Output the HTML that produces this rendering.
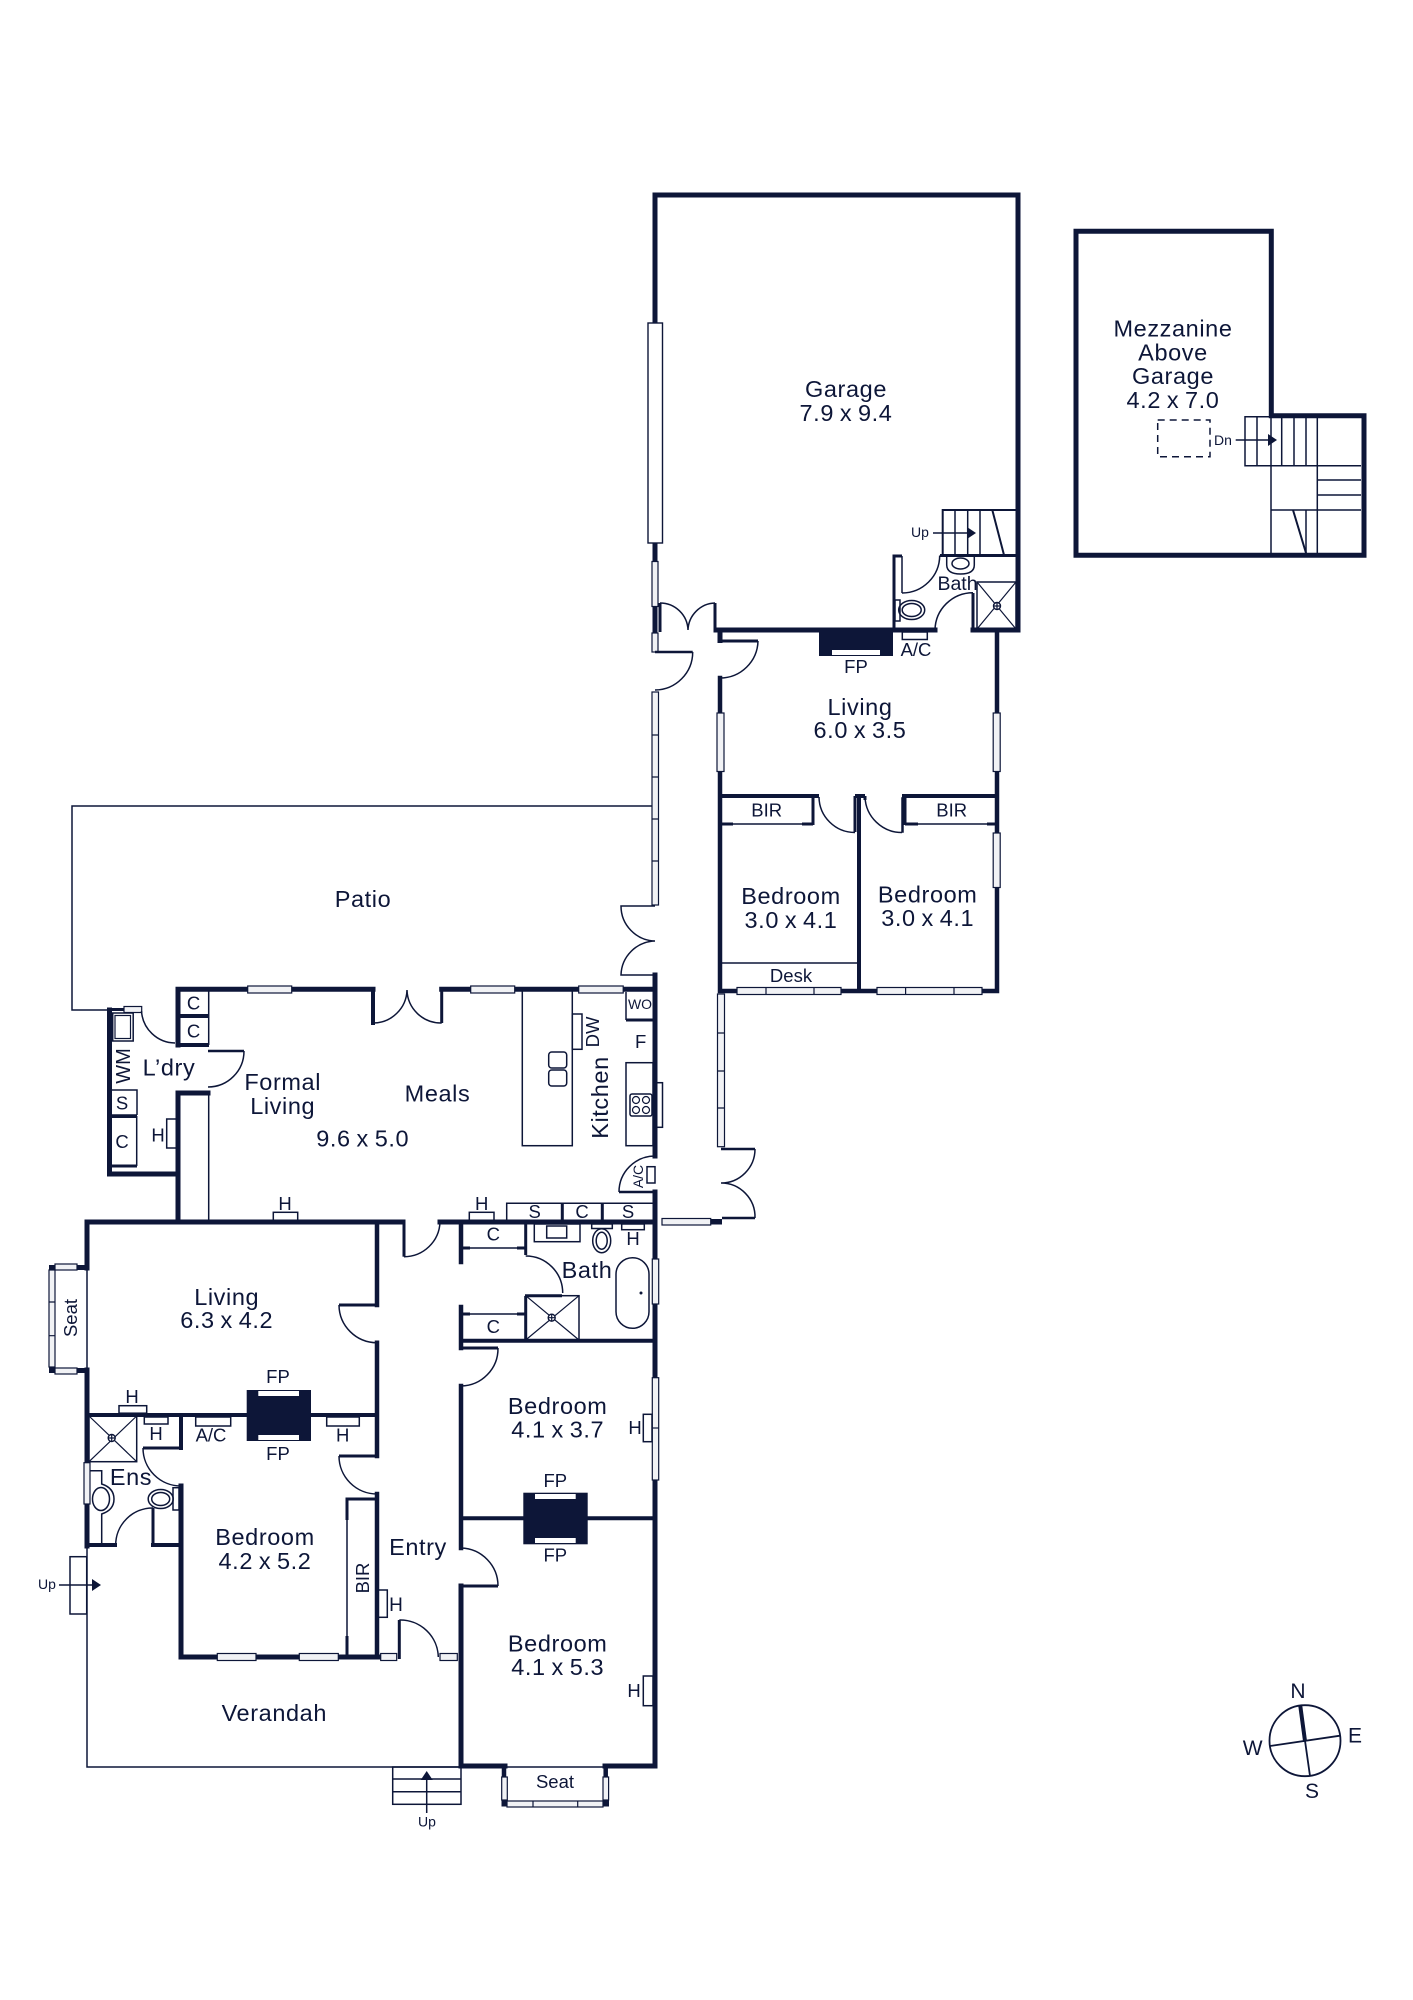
<!DOCTYPE html>
<html lang="en"><head><meta charset="utf-8"><title>Floor plan</title>
<style>
html,body{margin:0;padding:0;background:#fff}
svg{display:block}
text{font-family:"Liberation Sans",sans-serif;fill:#0d1638;text-anchor:middle}
.l{font-size:23.5px;letter-spacing:.6px;word-spacing:-1.3px}
.m{font-size:18.5px}
.s{font-size:14px}
.c{font-size:21px}
.w{fill:none;stroke:#0d1638;stroke-width:5;stroke-linecap:square}
.t{fill:none;stroke:#0d1638;stroke-width:3}
.n{fill:none;stroke:#0d1638;stroke-width:1.5}
.h{fill:none;stroke:#0d1638;stroke-width:1.2}
.b{fill:#fff;stroke:#0d1638;stroke-width:1.4}
.g{fill:#f1f2f5;stroke:#0d1638;stroke-width:1.2}
.k{fill:#0d1638}
.wh{fill:#fff}
</style></head><body>
<svg width="1413" height="2000" viewBox="0 0 1413 2000" xmlns="http://www.w3.org/2000/svg">
<rect width="1413" height="2000" fill="#fff"/>

<!-- thin outlines: patio, verandah -->
<path class="n" d="M652 806H72V1010H108"/>
<path class="n" d="M87 1268V1370M87 1546V1767H461"/>
<path class="n" d="M208.700 989V1045M208.700 1092V1222"/>
<path class="n" d="M720 963H859"/>

<!-- GARAGE -->
<path class="w" d="M655 323V195H1018V630H973"/>
<path class="w" d="M655 543V632"/>
<path class="t" d="M715 630V603"/>
<path class="w" d="M716 630H893M893 630H935"/>
<path class="t" d="M973 630V593M894 630V556H902"/>
<path class="n" d="M902 556V593"/>
<path class="t" d="M940 555.500H1018"/>
<path class="t" d="M660 603V632"/>
<rect class="b" x="648" y="323" width="14.500" height="220"/>
<rect class="g" x="652" y="561.500" width="6" height="45"/>
<rect class="g" x="652" y="633" width="6" height="19"/>
<path class="n" d="M660 603A28 28 0 0 1 688 630M715 603A28 28 0 0 0 688 630"/>
<rect class="k" x="819" y="628" width="74" height="28"/>
<rect class="wh" x="832" y="650" width="48" height="5"/>
<rect class="n" x="902.300" y="632" width="25" height="7.500"/>
<!-- garage stairs -->
<path class="t" style="stroke-width:2" d="M942.700 555V510H1018"/>
<path class="n" d="M955 510V555M967.700 510V555M980 510V555"/>
<path class="t" style="stroke-width:2" d="M992.300 510L1004 555"/>
<path class="n" d="M933 533H968"/><path class="k" d="M967 527L976 533L967 539Z"/>
<text class="s" x="920" y="537">Up</text>
<!-- garage bath -->
<path class="n" d="M902 593A37.700 37.700 0 0 0 939.700 555.500"/>
<path class="n" d="M935 630A38 38 0 0 1 973 592.700"/>
<rect class="n" x="895" y="600" width="5" height="21"/>
<ellipse class="n" cx="911.700" cy="610" rx="13" ry="9.500"/><ellipse class="n" cx="911.700" cy="610" rx="9.500" ry="6.500"/>
<path class="n" d="M946.700 556V565Q947 574 960.500 574Q974.300 574 974.300 565V556"/>
<ellipse class="n" cx="960.500" cy="563.500" rx="8.500" ry="5.500"/>
<rect class="n" x="977" y="582" width="39" height="47"/>
<path class="h" d="M977 582L1016 629M1016 582L977 629"/>
<circle class="b" cx="997" cy="606" r="3.500"/><path class="h" d="M993.500 606H1000.500M997 602.500V609.500"/>

<!-- REAR LIVING / BEDROOMS -->
<path class="w" d="M720 632V640.500"/>
<path class="t" d="M720 641H758"/>
<path class="n" d="M758 641A38 38 0 0 1 720 678"/>
<path class="w" d="M720 678V991H997V632" style="stroke-width:4.500"/>
<path class="w" style="stroke-width:4" d="M859 796V991"/>
<path class="t" style="stroke-width:4" d="M720 796H819M855 796H865M902 796H997"/>
<path class="t" d="M813 796V825M905 796V825M855 796V832M865 796V800"/>
<path class="n" d="M720 824H813M905 824H997"/>
<path class="t" style="stroke-width:3" d="M722 824H733M802 824H813M905 824H918M987 824H995"/>
<path class="n" d="M819 797A36 36 0 0 0 855 832.500M865 797A37 37 0 0 0 902 832.500"/>
<rect class="n" x="902" y="798" width="1" height="34"/>
<rect class="g" x="717" y="713" width="7" height="58.500"/>
<rect class="g" x="993.200" y="713" width="7" height="58.500"/>
<rect class="g" x="993.200" y="833" width="7" height="54.500"/>
<rect class="g" x="737" y="987.500" width="104" height="7"/><path class="h" d="M766 987V995M814 987V995"/>
<rect class="g" x="877" y="987.500" width="105" height="7"/><path class="h" d="M905.600 987V995M954 987V995"/>

<!-- side door -->
<path class="t" style="stroke-width:2.500" d="M655 652H692.700"/>
<path class="n" d="M692.700 652A38 38 0 0 1 655 690"/>
<rect class="g" x="652" y="692" width="6.500" height="213"/>
<path class="h" d="M652 735H658.500M652 777H658.500M652 819H658.500M652 861H658.500"/>
<path class="n" d="M655 906H621A35 35 0 0 0 655 941A35 35 0 0 0 621 975H655"/>

<!-- corridor right -->
<rect class="g" x="717.500" y="994" width="7" height="152.700"/>
<path class="h" d="M717.500 1033H724.500M717.500 1071H724.500M717.500 1108H724.500"/>
<path class="t" style="stroke-width:2.500" d="M721 1149H755"/>
<path class="n" d="M755 1149A34 34 0 0 1 721 1183A34 34 0 0 1 755 1218"/>
<path class="t" style="stroke-width:2.500" d="M722 1218H755"/>
<rect class="k" x="710" y="1219" width="12" height="5.500"/>
<rect class="g" x="662" y="1218.500" width="48.700" height="6.500"/>

<!-- MAIN outer right wall -->
<path class="w" d="M655 975V1156"/>
<path class="t" style="stroke-width:2.500" d="M619 1192H655"/>
<path class="n" d="M655 1156A36 36 0 0 0 619 1192"/>
<path class="w" d="M655 1192V1766H605"/>
<path class="w" d="M461 1766H505"/>

<!-- top wall of meals -->
<path class="w" d="M178 1045V989.300H373"/>
<path class="w" style="stroke-width:4" d="M373 989.300V1023"/>
<path class="w" d="M441.700 989.300H655"/>
<path class="t" d="M441.700 989V1023"/>
<path class="n" d="M373 1023A34 34 0 0 0 407 990A34 34 0 0 0 441.700 1023"/>
<rect class="g" x="247.700" y="986" width="44" height="7"/>
<rect class="g" x="470.700" y="986" width="44" height="7"/>
<rect class="g" x="578.700" y="986" width="44.500" height="7"/>

<!-- L'DRY -->
<path class="w" d="M109.500 1010V1174H178V1093H208"/>
<path class="w" d="M178 1174V1222"/>
<path class="t" d="M109 1009.500H124"/>
<rect class="g" x="124" y="1006.500" width="17.700" height="6"/>
<path class="n" d="M141.500 1011A34 34 0 0 0 175 1043"/>
<path class="w" style="stroke-width:4" d="M178 1016H207M178 1045H207"/>
<path class="t" style="stroke-width:2.500" d="M208 1051H244"/>
<path class="n" d="M244 1051A36 36 0 0 1 208 1087"/>
<rect class="n" x="112.700" y="1013" width="20.500" height="28"/>
<rect class="h" x="115" y="1015.500" width="15.500" height="23"/>
<path class="n" d="M112 1090H137V1115M112 1115H137"/>
<path class="t" d="M110 1116.500H137M110 1166H137"/>
<path class="n" d="M136.700 1116V1166"/>
<rect class="n" x="166.700" y="1119" width="10.500" height="29"/>

<!-- main horizontal wall -->
<path class="w" d="M87 1222H403M440 1222H655"/>
<path class="t" d="M404 1222V1256.700"/>
<path class="n" d="M404 1256.700A36 36 0 0 0 440 1222"/>

<!-- kitchen -->
<rect class="n" x="522.300" y="990" width="50" height="155.700"/>
<rect class="n" x="572.300" y="1014" width="9.700" height="35.300"/>
<rect class="n" x="548.700" y="1052" width="18" height="16" rx="3"/>
<rect class="n" x="548.700" y="1070" width="18" height="16" rx="3"/>
<path class="n" d="M626 992V1020"/><path class="t" d="M626 1020H653"/>
<rect class="n" x="626" y="1062.700" width="27" height="83"/>
<rect class="n" x="655.500" y="1082.700" width="7" height="44.600"/>
<rect class="n" x="630" y="1094" width="22" height="22" rx="2"/>
<circle class="h" cx="636" cy="1100" r="3.500"/><circle class="h" cx="646" cy="1100" r="3.500"/><circle class="h" cx="636" cy="1110" r="3.500"/><circle class="h" cx="646" cy="1110" r="3.500"/>
<rect class="n" x="647" y="1166.700" width="8" height="16.300"/>
<path class="n" d="M506.700 1222V1203.300H653"/>
<path class="t" d="M562.300 1203V1221M602.300 1203V1221"/>
<rect class="n" x="469.300" y="1212.300" width="24.700" height="8"/>
<rect class="n" x="273.300" y="1212.300" width="24.400" height="8"/>

<!-- FRONT LIVING -->
<path class="w" d="M87 1222V1268"/>
<path class="w" d="M87 1370V1546"/>
<rect class="k" x="76" y="1265" width="11" height="5"/>
<rect class="k" x="76" y="1368" width="11" height="5"/>
<rect class="k" x="49" y="1265" width="6" height="6"/>
<rect class="k" x="49" y="1367" width="6" height="6"/>
<rect class="g" x="55" y="1264" width="22" height="6"/>
<rect class="g" x="55" y="1368" width="22" height="6"/>
<rect class="g" x="49" y="1270" width="6" height="97"/>
<path class="h" d="M49 1302H55M49 1335.700H55"/>
<path class="w" style="stroke-width:4.500" d="M377 1222V1305"/>
<path class="t" d="M339 1305H377"/>
<path class="n" d="M339 1305A38 38 0 0 0 377 1342.700"/>
<path class="w" style="stroke-width:4.500" d="M377 1342.700V1456"/>
<path class="t" d="M339 1456H377"/>
<path class="n" d="M339 1456A38 38 0 0 0 377 1494"/>
<path class="w" style="stroke-width:4.500" d="M377 1494V1657"/>
<path class="w" style="stroke-width:4" d="M87 1415H377"/>
<rect class="k" x="246.700" y="1390" width="64.300" height="51"/>
<rect class="wh" x="258.300" y="1391" width="40.700" height="5"/>
<rect class="wh" x="258.300" y="1435" width="40.700" height="5"/>
<rect class="n" x="119" y="1405.700" width="27.700" height="7.500"/>
<rect class="n" x="144.300" y="1417" width="23.700" height="7"/>
<rect class="n" x="195.700" y="1417" width="35" height="9"/>
<rect class="n" x="326.700" y="1417" width="32.600" height="9"/>
<path class="w" style="stroke-width:4" d="M181 1415V1448"/>
<path class="t" d="M143 1448H181"/>
<path class="n" d="M143 1448A38 38 0 0 0 181 1486"/>
<path class="w" d="M181 1486V1657H299"/>
<path class="w" d="M299 1657H398"/>
<path class="w" style="stroke-width:4" d="M87 1545H115M153 1545H181"/>
<path class="t" d="M153 1508V1545"/>
<path class="n" d="M115.700 1545A37 37 0 0 1 153 1508"/>
<rect class="n" x="173" y="1487.700" width="6" height="22.300"/>
<ellipse class="n" cx="160.700" cy="1499" rx="12.500" ry="9.500"/><ellipse class="n" cx="160.700" cy="1499" rx="9" ry="6.500"/>
<rect class="n" x="89" y="1416" width="47.700" height="45.700"/>
<path class="h" d="M89 1416L136.700 1461.700M136.700 1416L89 1461.700"/>
<circle class="b" cx="111.700" cy="1438" r="3.500"/><path class="h" d="M108.200 1438H115.200M111.700 1434.500V1441.500"/>
<rect class="g" x="84" y="1462.700" width="6" height="41.300"/>
<path class="n" d="M90 1470.700H101.700V1484Q114 1488 114 1499Q114 1510 101.700 1514V1545"/>
<ellipse class="n" cx="101" cy="1499" rx="8.500" ry="11.500"/>
<!-- BIR / windows -->
<path class="t" d="M347 1520V1499H377"/>
<path class="n" d="M347 1520V1636"/>
<path class="t" d="M347 1636V1657"/>
<rect class="n" x="378" y="1590" width="9.300" height="27.300"/>
<rect class="g" x="217.300" y="1653.500" width="38.700" height="7"/>
<rect class="g" x="299.300" y="1653.500" width="39" height="7"/>
<rect class="wh" x="397" y="1650" width="44" height="14"/>
<rect class="g" x="380.700" y="1653.500" width="16" height="7"/>
<rect class="g" x="440" y="1653.500" width="17.300" height="7"/>
<path class="t" d="M399.300 1659V1620"/>
<path class="n" d="M399.300 1620A38 38 0 0 1 438.300 1657"/>
<rect class="n" x="70" y="1556.700" width="16.700" height="57.300"/>
<path class="n" d="M59 1585H93"/><path class="k" d="M92 1579L101 1585L92 1591Z"/>
<rect class="n" x="392.700" y="1767" width="68.300" height="37.300"/>
<path class="n" d="M392.700 1779H461M392.700 1791.700H461"/>
<path class="n" d="M426.700 1813V1778"/><path class="k" d="M420.700 1780L426.700 1771L432.700 1780Z"/>

<!-- FRONT RIGHT: bath, bedrooms -->
<path class="w" style="stroke-width:4.500" d="M461 1224V1262"/>
<path class="w" style="stroke-width:4.500" d="M461 1307V1348"/>
<path class="t" d="M461 1348H498"/>
<path class="n" d="M498 1348A37.500 37.500 0 0 1 461 1386"/>
<path class="w" style="stroke-width:4.500" d="M461 1386V1548"/>
<path class="n" d="M461 1548A38 38 0 0 1 498 1586"/>
<path class="t" d="M461 1586H498"/>
<path class="w" d="M461 1586V1766"/>
<path class="t" d="M525.700 1224V1255"/>
<path class="n" d="M461 1248H525"/>
<path class="t" d="M463 1248H470M517 1248H525"/>
<path class="n" d="M525.700 1256A37 37 0 0 1 562.700 1293"/>
<path class="t" d="M525.700 1296V1340M525 1295.700H562"/>
<rect class="n" x="525.700" y="1295.700" width="53.300" height="44.300"/>
<path class="h" d="M525.700 1295.700L579 1340M579 1295.700L525.700 1340"/>
<circle class="b" cx="551.700" cy="1317.700" r="3.500"/><path class="h" d="M548.200 1317.700H555.200M551.700 1314.200V1321.200"/>
<path class="n" d="M461 1314H525"/>
<path class="t" d="M463 1314H470M517 1314H525"/>
<path class="w" style="stroke-width:4" d="M461 1340.700H655"/>
<rect class="n" x="534.300" y="1224" width="45.700" height="17.700"/>
<rect class="n" x="546.700" y="1226" width="20" height="12"/>
<rect class="n" x="591.700" y="1224" width="20.600" height="4.500"/>
<ellipse class="n" cx="601.700" cy="1240.700" rx="9" ry="12"/><ellipse class="n" cx="601.700" cy="1240.700" rx="5.500" ry="8.500"/>
<rect class="n" x="621.700" y="1224" width="22.600" height="5.700"/>
<rect class="n" x="616" y="1257.700" width="33" height="70.600" rx="16.500"/>
<circle class="k" cx="641" cy="1293" r="1.500"/>
<rect class="g" x="652.300" y="1259" width="6.400" height="45"/>
<rect class="g" x="652.300" y="1377.700" width="6.400" height="102.300"/><path class="h" d="M652.300 1428H658.700"/>
<rect class="n" x="643.300" y="1414.300" width="8.700" height="27.400"/>
<path class="w" style="stroke-width:4" d="M461 1518.300H655"/>
<rect class="k" x="523.300" y="1492.700" width="64.400" height="51.600"/>
<rect class="wh" x="535" y="1494" width="40.700" height="5"/>
<rect class="wh" x="535" y="1538" width="40.700" height="5"/>
<rect class="n" x="643.300" y="1676" width="9.700" height="29.700"/>
<!-- seat -->
<path class="n" d="M505 1767H605"/>
<path class="w" style="stroke-width:4.500" d="M504 1767V1776M605.700 1767V1776"/>
<rect class="g" x="501.700" y="1777" width="5.600" height="23"/>
<rect class="g" x="603" y="1777" width="5.600" height="23"/>
<rect class="k" x="501.500" y="1800" width="6" height="6.500"/>
<rect class="k" x="603" y="1800" width="6" height="6.500"/>
<rect class="g" x="507" y="1801" width="96" height="6"/><path class="h" d="M533 1801V1807M577.700 1801V1807"/>

<!-- MEZZANINE -->
<path class="w" d="M1271.300 415V231.300H1076V555.300H1364V415.700H1271.300"/>
<path class="n" d="M1271 416V555"/>
<path class="n" d="M1271 416.700H1245V465.700H1361"/>
<path class="n" d="M1257 416.700V465.700M1281.700 416.700V465.700M1294 416.700V465.700M1306 416.700V465.700"/>
<path class="n" d="M1317.300 416.700V555M1317.300 480H1361M1317.300 495H1361M1271 510H1361M1306 510V555"/>
<path class="t" style="stroke-width:2" d="M1293 510L1306 553"/>
<rect class="n" x="1157.700" y="420" width="52.300" height="36.700" stroke-dasharray="7 5"/>
<path class="n" d="M1235.700 440H1270"/><path class="k" d="M1268 434L1277 440L1268 446Z"/>

<!-- COMPASS -->
<circle class="n" style="stroke-width:1.800" cx="1305" cy="1740.700" r="35.500"/>
<path class="n" style="stroke-width:1.800" d="M1305 1740.700L1310 1776M1270 1746L1340 1735.700"/>
<path class="t" style="stroke-width:4" d="M1300.300 1706L1305 1741"/>

<!-- LABELS -->
<text class="l" x="846" y="397">Garage</text><text class="l" x="846" y="421">7.9 x 9.4</text>
<text class="l" x="1173" y="336.700">Mezzanine</text><text class="l" x="1173" y="360.700">Above</text><text class="l" x="1173" y="384">Garage</text><text class="l" x="1173" y="408">4.2 x 7.0</text>
<text class="s" x="1223" y="445">Dn</text>
<text class="l" x="957.500" y="590" style="font-size:19.500px;letter-spacing:0">Bath</text>
<text class="m" x="916" y="656">A/C</text><text class="m" x="856" y="673">FP</text>
<text class="l" x="860" y="715">Living</text><text class="l" x="860" y="738">6.0 x 3.5</text>
<text class="m" x="766.700" y="816.700">BIR</text><text class="m" x="951.700" y="816.700">BIR</text>
<text class="l" x="791" y="904">Bedroom</text><text class="l" x="791" y="928">3.0 x 4.1</text>
<text class="l" x="927.700" y="902.700">Bedroom</text><text class="l" x="927.700" y="926">3.0 x 4.1</text>
<text class="m" x="791" y="982">Desk</text>
<text class="l" x="363" y="907">Patio</text>
<text class="l" x="282.700" y="1090">Formal</text><text class="l" x="282.700" y="1114">Living</text>
<text class="l" x="437.500" y="1101.700">Meals</text><text class="l" x="362.700" y="1146.700">9.6 x 5.0</text>
<text class="l" x="169" y="1075.700">L’dry</text>
<text class="m" x="193.500" y="1009.700">C</text><text class="m" x="193.500" y="1037.500">C</text>
<text class="m" x="130" y="1066" transform="rotate(-90 130 1066)" style="font-size:20px">WM</text>
<text class="m" x="122" y="1109.500">S</text><text class="m" x="122" y="1148">C</text>
<text class="m" x="158" y="1141.700">H</text>
<text class="m" x="285" y="1210">H</text><text class="m" x="481.700" y="1210">H</text>
<text class="m" x="608" y="1097.500" transform="rotate(-90 608 1097.500)" style="font-size:23.500px;letter-spacing:.6px">Kitchen</text>
<text class="m" x="599" y="1032" transform="rotate(-90 599 1032)">DW</text>
<text class="s" x="640" y="1009">WO</text><text class="m" x="640.700" y="1048">F</text>
<text class="s" x="643" y="1176.500" transform="rotate(-90 643 1176.500)">A/C</text>
<text class="m" x="534.700" y="1218">S</text><text class="m" x="582" y="1218">C</text><text class="m" x="628" y="1218">S</text>
<text class="l" x="226.700" y="1305">Living</text><text class="l" x="226.700" y="1328">6.3 x 4.2</text>
<text class="m" x="77" y="1318" transform="rotate(-90 77 1318)">Seat</text>
<text class="m" x="278" y="1383">FP</text><text class="m" x="278" y="1460">FP</text>
<text class="m" x="132" y="1403">H</text><text class="m" x="156" y="1440">H</text>
<text class="m" x="211" y="1441.700">A/C</text><text class="m" x="342.700" y="1441.700">H</text>
<text class="l" x="131" y="1485">Ens</text>
<text class="l" x="265" y="1545">Bedroom</text><text class="l" x="265" y="1569">4.2 x 5.2</text>
<text class="m" x="369" y="1578" transform="rotate(-90 369 1578)">BIR</text>
<text class="l" x="418" y="1555">Entry</text>
<text class="m" x="396" y="1611" style="font-size:19px">H</text>
<text class="l" x="274.300" y="1721">Verandah</text>
<text class="s" x="47" y="1589">Up</text><text class="s" x="427" y="1826.700">Up</text>
<text class="m" x="493.300" y="1240.700">C</text><text class="m" x="493.300" y="1333">C</text>
<text class="m" x="633" y="1245">H</text>
<text class="l" x="587" y="1278">Bath</text>
<text class="l" x="557.700" y="1414">Bedroom</text><text class="l" x="557.700" y="1437.700">4.1 x 3.7</text>
<text class="m" x="635" y="1434">H</text>
<text class="m" x="555.300" y="1487">FP</text><text class="m" x="555.300" y="1561.700">FP</text>
<text class="l" x="557.700" y="1651.700">Bedroom</text><text class="l" x="557.700" y="1675">4.1 x 5.3</text>
<text class="m" x="634" y="1697">H</text>
<text class="m" x="555" y="1788">Seat</text>
<text class="c" x="1298" y="1698">N</text><text class="c" x="1355" y="1742.700">E</text><text class="c" x="1312" y="1798">S</text><text class="c" x="1252.700" y="1755">W</text>
</svg>
</body></html>
